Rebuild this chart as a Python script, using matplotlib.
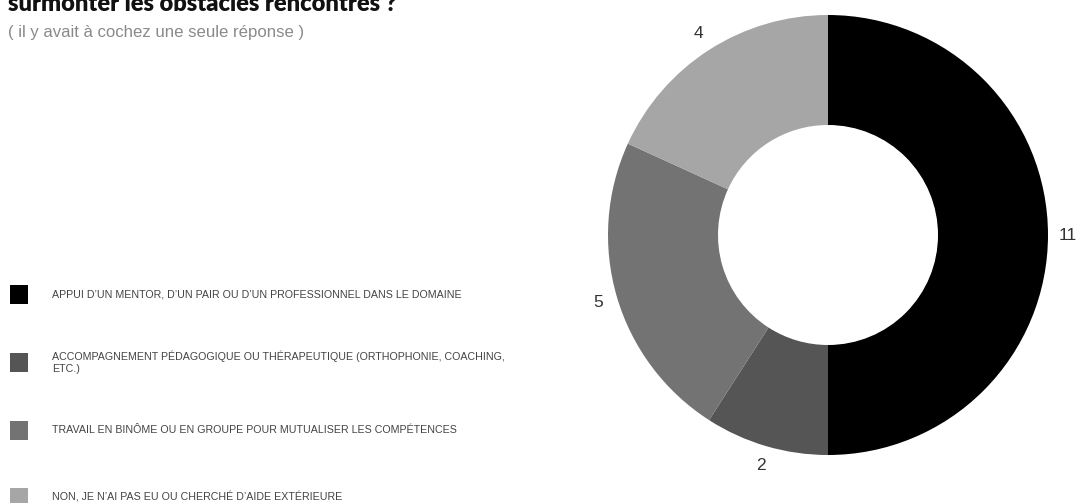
import numpy as np
import matplotlib
matplotlib.use("Agg")
import matplotlib.pyplot as plt
from matplotlib.patches import Rectangle

# Survey answers and counts
categories = [
    "APPUI D\u2019UN MENTOR, D\u2019UN PAIR OU D\u2019UN PROFESSIONNEL DANS LE DOMAINE",
    "ACCOMPAGNEMENT PÉDAGOGIQUE OU THÉRAPEUTIQUE (ORTHOPHONIE, COACHING,\nETC.)",
    "TRAVAIL EN BINÔME OU EN GROUPE POUR MUTUALISER LES COMPÉTENCES",
    "NON, JE N\u2019AI PAS EU OU CHERCHÉ D\u2019AIDE EXTÉRIEURE",
]
counts = [11, 2, 5, 4]
colors = ["#000000", "#555555", "#737373", "#a6a6a6"]

title_text = "surmonter les obstacles rencontrés ?"
subtitle_text = "( il y avait à cochez une seule réponse )"

W, H = 1078, 503
fig = plt.figure(figsize=(W / 100, H / 100), dpi=100)
fig.patch.set_facecolor("white")


def fx(px):
    return px / W


def fy(py):
    return 1 - py / H


# Donut chart
cx, cy, r = 828, 235, 220
ax = fig.add_axes([fx(cx - r), fy(cy + r), 2 * r / W, 2 * r / H])
wedges, _ = ax.pie(
    counts,
    colors=colors,
    startangle=90,
    counterclock=False,
    radius=1.0,
    wedgeprops=dict(width=0.5, edgecolor="none", linewidth=0),
)
ax.set_xlim(-1, 1)
ax.set_ylim(-1, 1)
ax.set_aspect("auto")
ax.axis("off")

for w, n in zip(wedges, counts):
    mid = np.deg2rad((w.theta1 + w.theta2) / 2)
    d = 1.09
    ax.text(d * np.cos(mid), d * np.sin(mid), str(n), ha="center", va="center",
            fontsize=12.5, color="#333333", family="Liberation Sans", clip_on=False)

# Heading
fig.text(fx(8), fy(11), title_text, ha="left", va="baseline", fontsize=17,
         fontweight="heavy", family="Lato", color="#111111")
fig.text(fx(8), fy(32), subtitle_text, ha="left", va="center", fontsize=12.1,
         family="Liberation Sans", color="#8a8a8a")

# Legend
legend_y = [294.5, 362, 430, 497.5]
for lab, col, y in zip(categories, colors, legend_y):
    sq = 19
    fig.patches.append(Rectangle((fx(9.5), fy(y + sq / 2)), sq / W, sq / H,
                                 transform=fig.transFigure, facecolor=col,
                                 edgecolor="none"))
    fig.text(fx(52), fy(y), lab, ha="left", va="center", fontsize=7.65,
             family="Liberation Sans", color="#444444", linespacing=1.2)

fig.savefig("out.png", dpi=100, facecolor="white")
